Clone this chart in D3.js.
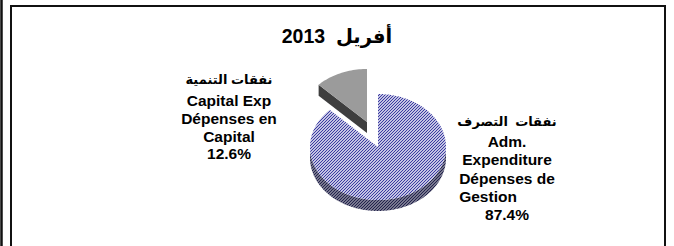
<!DOCTYPE html>
<html>
  <head>
    <meta charset="utf-8">
    <script src="https://d3js.org/d3.v7.min.js"></script>
    <style>
      body { margin: 0px; background: #fff; }
      text { font-family: 'Liberation Sans', Arial, 'DejaVu Sans', sans-serif; font-weight: bold; fill: #000; white-space: pre; }
      .ar { font-size: 13px; }
      .lbl { font-size: 15.5px; }
      .title { font-size: 19.5px; }
    </style>
  </head>
  <body>
    <svg width="674" height="246"></svg>
    <script>
      // data
      const title = 'أفريل  2013';
      const categories = ['Adm. Expenditure', 'Capital Exp'];
      const values = [87.4, 12.6];
      const arabicNames = ['نفقات  التصرف', 'نفقات التنمية'];
      const labelLines = [
        ['Adm.', 'Expenditure', 'Dépenses de', 'Gestion'],
        ['Capital Exp', 'Dépenses en', 'Capital']
      ];

      const svg = d3.select('svg');
      const cx = 378, cy = 147, rx = 68, ry = 53, depth = 11;

      // frame lines
      svg.append('line')
          .attr('x1', 1.5).attr('x2', 1.5).attr('y1', 0).attr('y2', 246)
          .attr('stroke', '#111').attr('stroke-width', 2.5);
      svg.append('rect')
          .attr('x', 11).attr('y', 6).attr('width', 654).attr('height', 260)
          .attr('fill', 'none').attr('stroke', '#111').attr('stroke-width', 2);

      // hatch patterns
      const defs = svg.append('defs');
      const hatch = (id, bg, fg, w) => {
        const p = defs.append('pattern').attr('id', id)
            .attr('patternUnits', 'userSpaceOnUse').attr('width', 3).attr('height', 3);
        p.append('rect').attr('width', 3).attr('height', 3).attr('fill', bg);
        p.append('path').attr('d', 'M-1,1 L1,-1 M0,3 L3,0 M2,4 L4,2')
            .attr('stroke', fg).attr('stroke-width', w);
      };
      hatch('blueHatch', '#ffffff', '#30309c', 1.1);
      hatch('wallHatch', '#a2a2ae', '#1c1c48', 1.2);

      const arcs = d3.pie().sort(null)(values);
      const pt = (a, dx, dy, d) => [cx + dx + rx * Math.sin(a), cy + dy - ry * Math.cos(a) + (d || 0)];
      const arcPts = (a0, a1, dx, dy, d) => {
        const n = Math.max(2, Math.ceil((a1 - a0) / 0.03));
        return d3.range(n + 1).map(i => pt(a0 + (a1 - a0) * i / n, dx, dy, d));
      };
      const line = d3.line();

      const explode = [[0, 0], [-11, -25]];
      const fills = ['url(#blueHatch)', '#9b9b9b'];

      arcs.forEach((a, i) => {
        const [dx, dy] = explode[i];
        const g = svg.append('g');
        // front wall (visible between 90 and 270 degrees)
        const w0 = Math.max(a.startAngle, Math.PI / 2), w1 = Math.min(a.endAngle, 3 * Math.PI / 2);
        if (w1 > w0) {
          const top = arcPts(w0, w1, dx, dy, 0);
          const bot = arcPts(w0, w1, dx, dy, depth).reverse();
          g.append('path').attr('d', line(top.concat(bot)) + 'Z')
              .attr('fill', 'url(#wallHatch)');
        }
        // radial side face at the start edge, visible when it faces front
        if (a.startAngle > Math.PI) {
          const c = [cx + dx, cy + dy];
          const e = pt(a.startAngle, dx, dy, 0);
          g.append('path')
              .attr('d', line([c, e, [e[0], e[1] + depth], [c[0], c[1] + depth]]) + 'Z')
              .attr('fill', '#3e3e3e');
        }
        // top face
        const face = [[cx + dx, cy + dy]].concat(arcPts(a.startAngle, a.endAngle, dx, dy, 0));
        g.append('path').attr('d', line(face) + 'Z').attr('fill', fills[i]);
      });

      // title
      svg.append('text').attr('class', 'title')
          .attr('x', 337).attr('y', 43)
          .attr('text-anchor', 'middle')
          .attr('direction', 'rtl')
          .text(title);

      const fmt = d3.format('.1f');

      // right label (Adm. Expenditure)
      const rX = 507;
      svg.append('text').attr('class', 'ar').attr('x', rX).attr('y', 126)
          .attr('text-anchor', 'middle').attr('direction', 'rtl').text(arabicNames[0]);
      const rLines = labelLines[0].map((t, j) =>
        svg.append('text').attr('class', 'lbl').attr('x', rX).attr('y', 147 + j * 18.3)
          .attr('text-anchor', 'middle').text(t));
      // last word left-aligned under the previous line
      const prevW = rLines[2].node().getComputedTextLength();
      rLines[3].attr('text-anchor', 'start').attr('x', rX - prevW / 2);
      svg.append('text').attr('class', 'lbl').attr('x', rX).attr('y', 147 + 4 * 18.3)
          .attr('text-anchor', 'middle').text(fmt(values[0]) + '%');

      // left label (Capital Exp)
      const lX = 229;
      svg.append('text').attr('class', 'ar').attr('x', lX).attr('y', 84)
          .attr('text-anchor', 'middle').attr('direction', 'rtl').text(arabicNames[1]);
      labelLines[1].forEach((t, j) =>
        svg.append('text').attr('class', 'lbl').attr('x', lX).attr('y', 106 + j * 17.8)
          .attr('text-anchor', 'middle').text(t));
      svg.append('text').attr('class', 'lbl').attr('x', lX).attr('y', 106 + 3 * 17.8)
          .attr('text-anchor', 'middle').text(fmt(values[1]) + '%');
    </script>
  </body>
</html>
